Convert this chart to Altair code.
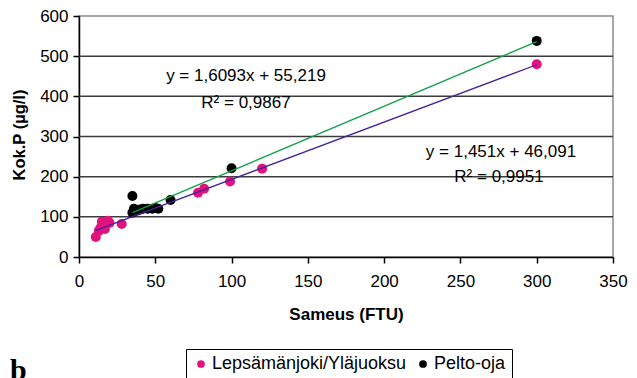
import altair as alt
import pandas as pd

# Data
lep_x = [11, 13, 14, 15, 17, 19, 20, 28, 78, 82, 99, 120, 300]
lep_y = [50, 65, 72, 88, 70, 90, 85, 82, 160, 170, 188, 220, 480]
pel_x = [35, 35, 36, 38, 40, 42, 45, 48, 50, 52, 60, 100, 300]
pel_y = [152, 110, 120, 115, 118, 120, 120, 120, 122, 120, 142, 221, 538]
series_names = ["Lepsämänjoki/Yläjuoksu", "Pelto-oja"]
grid_values = [100, 200, 300, 400, 500]
x_ticks = [0, 50, 100, 150, 200, 250, 300, 350]
y_ticks = [0, 100, 200, 300, 400, 500, 600]
eq_texts = ["y = 1,6093x + 55,219", "R² = 0,9867", "y = 1,451x + 46,091", "R² = 0,9951"]
panel_letter = ["b"]

FONT = "Liberation Sans"
PINK = "#e2127f"
BLACK = "#000000"
GREEN = "#12a04a"
PURPLE = "#43229a"

df = pd.DataFrame({
    "x": lep_x + pel_x,
    "y": lep_y + pel_y,
    "s": [series_names[0]] * len(lep_x) + [series_names[1]] * len(pel_x),
})
grid_df = pd.DataFrame({"g": grid_values})
eq_df = pd.DataFrame({
    "t": eq_texts,
    "px": [167, 167, 422, 420],
    "py": [65, 92, 141, 166],
})
letter_df = pd.DataFrame({"t": panel_letter})

W, H = 534, 241
xs = alt.Scale(domain=[0, 350], nice=False)
ys = alt.Scale(domain=[0, 600], nice=False)

grid = alt.Chart(grid_df).mark_rule(color="#3c3c3c", strokeWidth=1.5).encode(
    y=alt.Y("g:Q", scale=ys)
)

points = alt.Chart(df).mark_circle(size=100, opacity=1).encode(
    x=alt.X("x:Q", scale=xs,
            axis=alt.Axis(values=x_ticks, grid=False, labelFlush=False,
                          title="Sameus (FTU)", titleX=W / 2, titleY=62,
                          titleFontSize=17, titleBaseline="alphabetic")),
    y=alt.Y("y:Q", scale=ys,
            axis=alt.Axis(values=y_ticks, grid=False, labelFlush=False,
                          title="Kok.P (µg/l)", titleX=-60, titleY=H / 2 - 2,
                          titleFontSize=16.5,
                          titleAngle=-90, titleAlign="center", titleBaseline="middle")),
    color=alt.Color("s:N", scale=alt.Scale(domain=series_names, range=[PINK, BLACK]),
                    legend=alt.Legend(title=None, orient="none", direction="horizontal",
                                      legendX=107, legendY=333, symbolType="circle",
                                      symbolSize=60, labelFontSize=18, labelFont=FONT,
                                      strokeColor="black", padding=6, columnPadding=7,
                                      labelOffset=2,
                                      symbolStrokeWidth=0, labelLimit=400)),
    order=alt.Order("s:N"),
)

reg_pel = alt.Chart(df).transform_filter(alt.datum.s == series_names[1]).transform_regression(
    "x", "y").mark_line(color=GREEN, strokeWidth=1.3).encode(
    x=alt.X("x:Q", scale=xs), y=alt.Y("y:Q", scale=ys))
reg_lep = alt.Chart(df).transform_filter(alt.datum.s == series_names[0]).transform_regression(
    "x", "y").mark_line(color=PURPLE, strokeWidth=1.3).encode(
    x=alt.X("x:Q", scale=xs), y=alt.Y("y:Q", scale=ys))

eqs = alt.Chart(eq_df).mark_text(font=FONT, fontSize=17, align="center",
                                 baseline="alphabetic", color="black").encode(
    x=alt.X("px:Q", scale=None), y=alt.Y("py:Q", scale=None), text="t:N")

letter = alt.Chart(letter_df).mark_text(font="Liberation Serif", fontSize=30, fontWeight="bold",
                                        align="left", baseline="alphabetic", color="black").encode(
    x=alt.value(-69), y=alt.value(364), text="t:N")

chart = alt.layer(grid, points, reg_lep, reg_pel, eqs, letter).properties(
    width=W, height=H,
    autosize="none",
    padding={"left": 71, "top": 8, "right": 16, "bottom": 121},
).configure_view(stroke="#8a8a8a", strokeWidth=1.5).configure_axis(
    domainColor="black", domainWidth=1.5, tickColor="black", tickWidth=1.5, tickSize=6,
    labelFont=FONT, labelFontSize=17, labelColor="black", labelPadding=5,
    titleFont=FONT, titleFontWeight="bold", titleColor="black",
).configure_axisX(labelPadding=10)

chart.save("out.html", embed_options={"renderer": "svg", "actions": False})
